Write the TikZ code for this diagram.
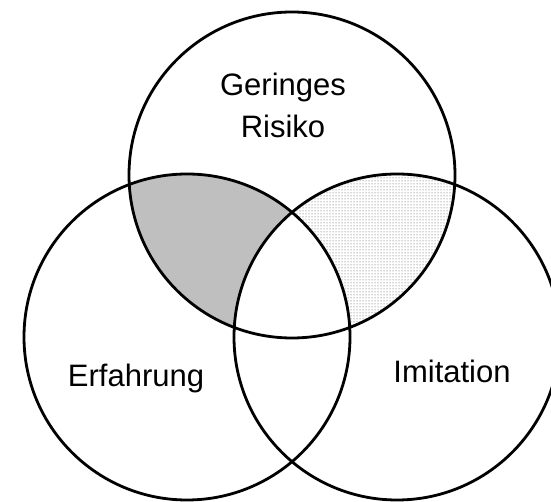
\documentclass[tikz,border=0pt]{standalone}
\usepackage{fontspec}
\setmainfont{Liberation Sans}
\usetikzlibrary{patterns}

\begin{document}
\begin{tikzpicture}[x=1pt, y=1pt]

\tikzstyle{set}=[circle, draw, line width=2.8pt, minimum size=326pt, inner sep=0pt]
\tikzstyle{lbl}=[font=\fontsize{31}{42}\selectfont, align=center]
\def\rad{163}

\useasboundingbox (0,0) rectangle (551,502);

\coordinate (crisk) at (292,327);
\coordinate (cexp) at (187,165);
\coordinate (cimit) at (397,165);

% shaded overlaps
\begin{scope}
\clip (crisk) circle (\rad);
\fill[black!25] (cexp) circle (\rad);
\fill[pattern=dots, pattern color=black!70] (cimit) circle (\rad);
\clip (cexp) circle (\rad);
\fill[white] (cimit) circle (\rad);
\end{scope}

\node[set] (risk) at (crisk) {};
\node[set] (exp) at (cexp) {};
\node[set] (imit) at (cimit) {};

\node[lbl] (risklbl) at (283,397) {Geringes\\Risiko};
\node[lbl, anchor=base] (explbl) at (136,115) {Erfahrung};
\node[lbl, anchor=base] (imitlbl) at (452,119) {Imitation};

\end{tikzpicture}
\end{document}
